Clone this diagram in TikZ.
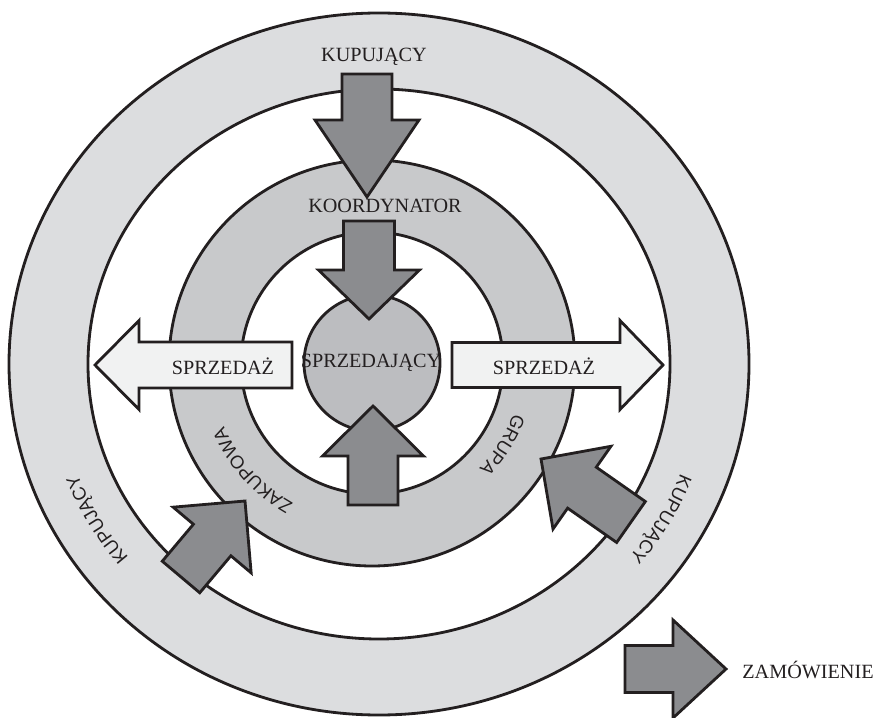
\documentclass[tikz,border=0pt]{standalone}
\usepackage{fontspec}
\setmainfont{Liberation Serif}
\newfontfamily\ringfont{Liberation Sans}
\usetikzlibrary{calc,decorations.text}

\definecolor{outerring}{HTML}{DCDDDF}
\definecolor{middlering}{HTML}{C8C9CB}
\definecolor{corecircle}{HTML}{BCBDC0}
\definecolor{arrowdark}{HTML}{8B8C8F}
\definecolor{arrowlight}{HTML}{F1F2F2}
\definecolor{linedark}{HTML}{231F20}

% block arrow: style, tail, tip, half shaft, half head, head length (in px)
\newcommand{\blockarrow}[6]{%
  \coordinate (ba-h) at ($(#3)!#6*0.02cm!(#2)$);
  \draw[#1] ($(#2)!#4*0.02cm!90:(#3)$) -- ($(ba-h)!#4*0.02cm!90:(#3)$)
    -- ($(ba-h)!#5*0.02cm!90:(#3)$) -- (#3)
    -- ($(ba-h)!#5*0.02cm!-90:(#3)$) -- ($(ba-h)!#4*0.02cm!-90:(#3)$)
    -- ($(#2)!#4*0.02cm!-90:(#3)$) -- cycle;
}

\begin{document}
\begin{tikzpicture}[x=0.02cm,y=0.02cm,
    ringline/.style={draw=linedark,line width=1.6pt},
    darkarrow/.style={draw=linedark,line width=1.6pt,fill=arrowdark,line join=miter},
    lightarrow/.style={draw=linedark,line width=1.6pt,fill=arrowlight,line join=miter},
    plaintext/.style={font=\fontsize{11.5}{13}\selectfont,text=linedark,inner sep=0pt},
    ringtext/.style={decorate,decoration={text along path,text align=center,
        text color=linedark,text={|\ringfont\fontsize{10.5}{12}\selectfont|#1}}}]
    \useasboundingbox (0,0) rectangle (874,717);

    \coordinate (o) at (379,353);
    \coordinate (c) at (372,354);

    % rings
    \fill[outerring,even odd rule] (o) ellipse[x radius=370,y radius=351]
        (o) ellipse[x radius=291,y radius=275];
    \draw[ringline] (o) ellipse[x radius=370,y radius=351];
    \draw[ringline] (o) ellipse[x radius=291,y radius=275];
    \fill[middlering,even odd rule] (c) circle[radius=203] (c) circle[radius=131];
    \draw[ringline] (c) circle[radius=203];
    \draw[ringline] (c) circle[radius=131];
    \draw[ringline,fill=corecircle] (c) circle[radius=68];

    % texts along the rings
    \path[ringtext=ZAKUPOWA] (c) ++(252:161) arc[start angle=252,end angle=192,radius=161];
    \path[ringtext=GRUPA] (c) ++(358:150) arc[start angle=358,end angle=298,radius=150];
    \path[ringtext=KUPUJĄCY] (o) ++(-10:323 and 306)
        arc[start angle=-10,end angle=-50,x radius=323,y radius=306];
    \path[ringtext=KUPUJĄCY] (o) ++(230:323 and 306)
        arc[start angle=230,end angle=190,x radius=323,y radius=306];

    % arrows
    \coordinate (kupTail) at (367,643);   \coordinate (kupTip) at (367,520);
    \coordinate (korTail) at (369,496);   \coordinate (korTip) at (369,398);
    \coordinate (sprTail) at (373,212);   \coordinate (sprTip) at (373,311);
    \coordinate (leftTail) at (292,352);  \coordinate (leftTip) at (95,352);
    \coordinate (rightTail) at (452,352); \coordinate (rightTip) at (663,352);
    \coordinate (llTail) at (181,140);    \coordinate (llTip) at (245,216);
    \coordinate (lrTail) at (631,195);    \coordinate (lrTip) at (541,258);
    \coordinate (zamTail) at (625,48);    \coordinate (zamTip) at (726,48);

    \blockarrow{darkarrow}{kupTail}{kupTip}{25}{52}{77}
    \blockarrow{darkarrow}{korTail}{korTip}{25.5}{50.5}{49}
    \blockarrow{darkarrow}{sprTail}{sprTip}{25}{50.5}{50}
    \blockarrow{lightarrow}{leftTail}{leftTip}{23}{44.5}{44}
    \blockarrow{lightarrow}{rightTail}{rightTip}{22.5}{44.5}{43}
    \blockarrow{darkarrow}{llTail}{llTip}{24.5}{51}{51}
    \blockarrow{darkarrow}{lrTail}{lrTip}{25}{50.5}{50}
    \blockarrow{darkarrow}{zamTail}{zamTip}{23.5}{49}{53}

    % labels
    \node[plaintext] (kupLabel) at (374,660) {KUPUJĄCY};
    \node[plaintext] (korLabel) at (385,511) {KOORDYNATOR};
    \node[plaintext] (sprLabel) at (371,354) {SPRZEDAJĄCY};
    \node[plaintext] (leftLabel) at (223,351) {SPRZEDAŻ};
    \node[plaintext] (rightLabel) at (544,351) {SPRZEDAŻ};
    \node[plaintext,anchor=west] (zamLabel) at (742,47) {ZAMÓWIENIE};
\end{tikzpicture}
\end{document}
